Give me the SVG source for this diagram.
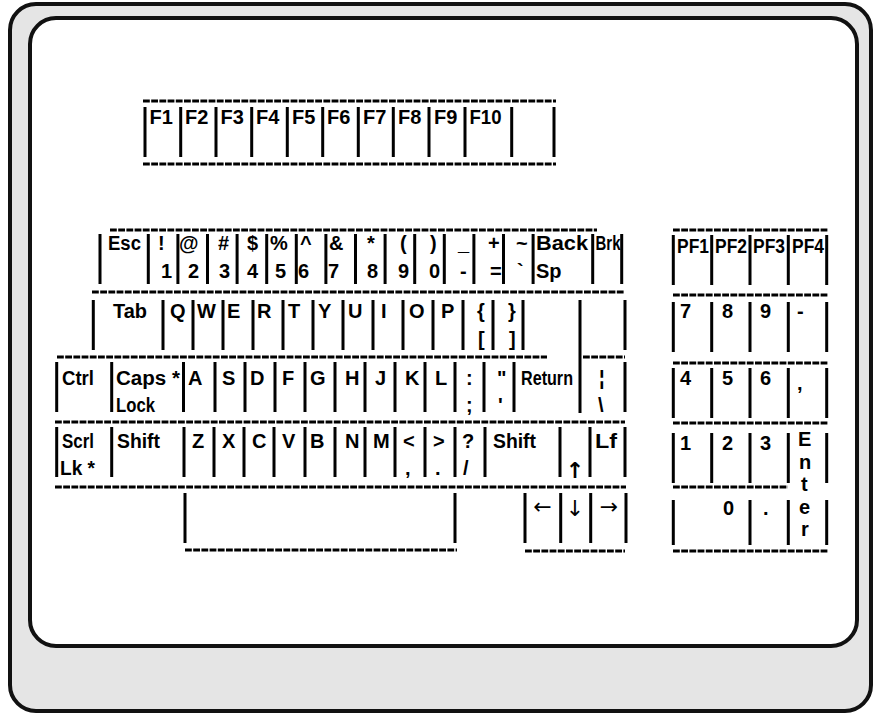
<svg xmlns="http://www.w3.org/2000/svg" width="874" height="714" viewBox="0 0 874 714">
<style>
.k{font-family:"Liberation Sans",Arial,sans-serif;font-size:20px;font-weight:bold;fill:#000}
.a{font-family:"DejaVu Sans",sans-serif;font-size:22px;fill:#000}
.h{stroke:#000;stroke-width:3;stroke-dasharray:6.8 1.4;fill:none}
.v{stroke:#000;stroke-width:3;fill:none}
</style>
<g id="frame">
<rect x="10" y="4" width="861" height="707" rx="26" fill="#e5e5e5" stroke="#111" stroke-width="4"/>
<rect x="30" y="18" width="827" height="628" rx="26" fill="#fff" stroke="#111" stroke-width="4"/>
</g>
<g id="connectors">
<path class="h" d="M143 101H556M143 164H556M110 230H597M673 230H828M92 292H625M673 295H828M57 357H547M583 357H625M673 363H828M55 422H625M673 423H828M55 487H626M673 487H788M185 550H457M525 551H625M673 551H828"/>
<path class="v" d="M145 107V157M180.7 107V157M216 107V157M251.7 107V157M287.3 107V157M322.7 107V157M358.3 107V157M393.3 107V157M429 107V157M465 107V157M511.7 107V157M554 107V157"/>
<path class="v" d="M100 234V284M148.3 234V284M177.9 234V284M207.5 234V284M237.1 234V284M266.7 234V284M296.3 234V284M325.9 234V284M355.5 234V284M385.1 234V284M414.7 234V284M444.3 234V284M473.9 234V284M503.5 234V284M533.1 234V284M592.7 234V284M621.7 234V284"/>
<path class="v" d="M93.3 300V350M163 300V350M193 300V350M223 300V350M253 300V350M283 300V350M313 300V350M343 300V350M373 300V350M403 300V350M433 300V350M463 300V350M493 300V350M523 300V350M625 300V350M580 300V413"/>
<path class="v" d="M56.7 362V412M111.7 362V412M183.5 362V412M215 362V412M245 362V412M275 362V412M305 362V412M335 362V412M365 362V412M395 362V412M425 362V412M455 362V412M484 362V412M514 362V412M625 362V412"/>
<path class="v" d="M56.7 427V477M111.7 427V477M184 427V477M214 427V477M244 427V477M274 427V477M305 427V477M335 427V477M365 427V477M395 427V477M425 427V477M455 427V477M485 427V477M560 427V477M590 427V477M625 427V477"/>
<path class="v" d="M185 493V543M455 493V543M525 493V543M560.7 493V543M590.7 493V543M626 493V543"/>
<path class="v" d="M673.3 235V285M711.7 235V285M750 235V285M788.3 235V285M826.7 235V285M673.3 302V352M711.7 302V352M750 302V352M788.3 302V352M826.7 302V352M673.3 368V418M711.7 368V418M750 368V418M788.3 368V418M826.7 368V418M673.3 433V483M711.7 433V483M750 433V483M788.3 433V483M826.7 433V483M673.3 500V545M750 500V545M788.3 500V545M826.7 500V545"/>
</g>
<g id="fkeys" class="k">
<g id="k-f1"><text x="149.5" y="124">F1</text></g>
<g id="k-f2"><text x="185" y="124">F2</text></g>
<g id="k-f3"><text x="220.5" y="124">F3</text></g>
<g id="k-f4"><text x="256" y="124">F4</text></g>
<g id="k-f5"><text x="292" y="124">F5</text></g>
<g id="k-f6"><text x="327" y="124">F6</text></g>
<g id="k-f7"><text x="363" y="124">F7</text></g>
<g id="k-f8"><text x="398" y="124">F8</text></g>
<g id="k-f9"><text x="434" y="124">F9</text></g>
<g id="k-f10"><text x="469.5" y="124" textLength="32" lengthAdjust="spacingAndGlyphs">F10</text></g>
</g>
<g id="row1" class="k">
<g id="k-esc"><text x="108" y="250" textLength="33" lengthAdjust="spacingAndGlyphs">Esc</text></g>
<g id="k-1"><text x="158" y="250">!</text><text x="161" y="278">1</text></g>
<g id="k-2"><text x="179" y="250">@</text><text x="188" y="278">2</text></g>
<g id="k-3"><text x="218" y="250">#</text><text x="219" y="278">3</text></g>
<g id="k-4"><text x="247" y="250">$</text><text x="247" y="278">4</text></g>
<g id="k-5"><text x="270" y="250">%</text><text x="275" y="278">5</text></g>
<g id="k-6"><text x="300" y="250">^</text><text x="298" y="278">6</text></g>
<g id="k-7"><text x="329" y="250">&amp;</text><text x="328" y="278">7</text></g>
<g id="k-8"><text x="367" y="250">*</text><text x="367" y="278">8</text></g>
<g id="k-9"><text x="400" y="250">(</text><text x="398" y="278">9</text></g>
<g id="k-0"><text x="430" y="250">)</text><text x="429" y="278">0</text></g>
<g id="k-minus"><text x="458" y="250">_</text><text x="460" y="278">-</text></g>
<g id="k-equal"><text x="488" y="250">+</text><text x="490" y="278">=</text></g>
<g id="k-tilde"><text x="516" y="250">~</text><text x="517" y="278">`</text></g>
<g id="k-back"><text x="536" y="250" textLength="52" lengthAdjust="spacingAndGlyphs">Back</text><text x="536" y="278">Sp</text></g>
<g id="k-brk"><text x="595.5" y="250" textLength="25" lengthAdjust="spacingAndGlyphs">Brk</text></g>
</g>
<g id="row2" class="k">
<g id="k-tab"><text x="113" y="318" textLength="34" lengthAdjust="spacingAndGlyphs">Tab</text></g>
<g id="k-q"><text x="170" y="318">Q</text></g>
<g id="k-w"><text x="197" y="318">W</text></g>
<g id="k-e"><text x="227" y="318">E</text></g>
<g id="k-r"><text x="257" y="318">R</text></g>
<g id="k-t"><text x="288" y="318">T</text></g>
<g id="k-y"><text x="318" y="318">Y</text></g>
<g id="k-u"><text x="348" y="318">U</text></g>
<g id="k-i"><text x="381" y="318">I</text></g>
<g id="k-o"><text x="409" y="318">O</text></g>
<g id="k-p"><text x="441" y="318">P</text></g>
<g id="k-lbrace"><text x="477" y="318">{</text><text x="478" y="346">[</text></g>
<g id="k-rbrace"><text x="508" y="318">}</text><text x="509" y="346">]</text></g>
</g>
<g id="row3" class="k">
<g id="k-ctrl"><text x="62" y="385" textLength="32" lengthAdjust="spacingAndGlyphs">Ctrl</text></g>
<g id="k-caps"><text x="116" y="385" textLength="64" lengthAdjust="spacingAndGlyphs">Caps *</text><text x="116" y="412" textLength="39" lengthAdjust="spacingAndGlyphs">Lock</text></g>
<g id="k-a"><text x="188" y="385">A</text></g>
<g id="k-s"><text x="222" y="385">S</text></g>
<g id="k-d"><text x="250" y="385">D</text></g>
<g id="k-f"><text x="282" y="385">F</text></g>
<g id="k-g"><text x="310" y="385">G</text></g>
<g id="k-h"><text x="345" y="385">H</text></g>
<g id="k-j"><text x="375" y="385">J</text></g>
<g id="k-k"><text x="405" y="385">K</text></g>
<g id="k-l"><text x="435" y="385">L</text></g>
<g id="k-colon"><text x="466" y="385">:</text><text x="466" y="412">;</text></g>
<g id="k-quote"><text x="497" y="385">"</text><text x="498" y="412">'</text></g>
<g id="k-return"><text x="521" y="385" textLength="52" lengthAdjust="spacingAndGlyphs">Return</text></g>
<g id="k-pipe"><text x="599" y="385">¦</text><text x="598" y="412">\</text></g>
</g>
<g id="row4" class="k">
<g id="k-scrl"><text x="62" y="448" textLength="32" lengthAdjust="spacingAndGlyphs">Scrl</text><text x="60" y="475" textLength="35" lengthAdjust="spacingAndGlyphs">Lk *</text></g>
<g id="k-lshift"><text x="117" y="448" textLength="43" lengthAdjust="spacingAndGlyphs">Shift</text></g>
<g id="k-z"><text x="192" y="448">Z</text></g>
<g id="k-x"><text x="222" y="448">X</text></g>
<g id="k-c"><text x="252" y="448">C</text></g>
<g id="k-v"><text x="282" y="448">V</text></g>
<g id="k-b"><text x="310" y="448">B</text></g>
<g id="k-n"><text x="345" y="448">N</text></g>
<g id="k-m"><text x="373" y="448">M</text></g>
<g id="k-comma"><text x="403" y="448">&lt;</text><text x="405" y="475">,</text></g>
<g id="k-period"><text x="433" y="448">&gt;</text><text x="435" y="475">.</text></g>
<g id="k-slash"><text x="462" y="448">?</text><text x="463" y="475">/</text></g>
<g id="k-rshift"><text x="493" y="448" textLength="43" lengthAdjust="spacingAndGlyphs">Shift</text></g>
<g id="k-up"><text class="a" x="575" y="478" text-anchor="middle">↑</text></g>
<g id="k-lf"><text x="595" y="448" textLength="22" lengthAdjust="spacingAndGlyphs">Lf</text></g>
</g>
<g id="row5">
<g id="k-space"/>
<g id="k-left"><text class="a" x="542.5" y="514" text-anchor="middle">←</text></g>
<g id="k-down"><text class="a" x="575" y="516" text-anchor="middle">↓</text></g>
<g id="k-right"><text class="a" x="609" y="514" text-anchor="middle">→</text></g>
</g>
<g id="keypad" class="k">
<g id="k-pf1"><text x="677" y="253" textLength="32" lengthAdjust="spacingAndGlyphs">PF1</text></g>
<g id="k-pf2"><text x="715" y="253" textLength="32" lengthAdjust="spacingAndGlyphs">PF2</text></g>
<g id="k-pf3"><text x="753" y="253" textLength="32" lengthAdjust="spacingAndGlyphs">PF3</text></g>
<g id="k-pf4"><text x="792" y="253" textLength="32" lengthAdjust="spacingAndGlyphs">PF4</text></g>
<g id="kp-7"><text x="680" y="318">7</text></g>
<g id="kp-8"><text x="722" y="318">8</text></g>
<g id="kp-9"><text x="760" y="318">9</text></g>
<g id="kp-minus"><text x="797" y="318">-</text></g>
<g id="kp-4"><text x="680" y="385">4</text></g>
<g id="kp-5"><text x="722" y="385">5</text></g>
<g id="kp-6"><text x="760" y="385">6</text></g>
<g id="kp-comma"><text x="797" y="390">,</text></g>
<g id="kp-1"><text x="680" y="450">1</text></g>
<g id="kp-2"><text x="722" y="450">2</text></g>
<g id="kp-3"><text x="760" y="450">3</text></g>
<g id="kp-enter"><text x="798" y="446">E</text><text x="799" y="468.5">n</text><text x="801" y="491">t</text><text x="799" y="513.5">e</text><text x="801" y="536">r</text></g>
<g id="kp-0"><text x="723" y="515">0</text></g>
<g id="kp-dot"><text x="763" y="515">.</text></g>
</g>
</svg>
